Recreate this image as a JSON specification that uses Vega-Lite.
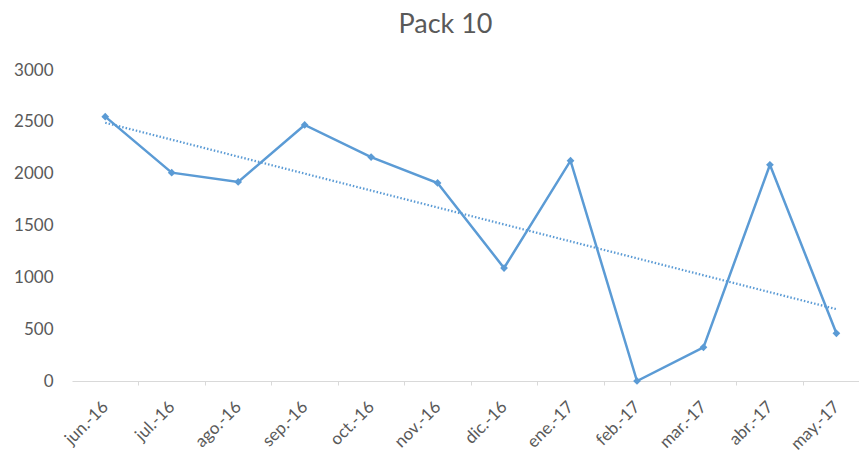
{
  "$schema": "https://vega.github.io/schema/vega-lite/v6.json",
  "autosize": {"type": "none"},
  "padding": {"left": 72, "top": 70, "right": 0, "bottom": 76},
  "width": 787,
  "height": 311,
  "background": "white",
  "config": {"view": {"stroke": null}, "font": "Lato"},
  "title": {"text": "Pack 10", "fontSize": 27, "font": "Lato", "fontWeight": "normal", "color": "#595959", "offset": 22, "dx": -20},
  "data": {"values": [
    {"i": 1, "month": "jun.-16", "value": 2550},
    {"i": 2, "month": "jul.-16", "value": 2010},
    {"i": 3, "month": "ago.-16", "value": 1920},
    {"i": 4, "month": "sep.-16", "value": 2470},
    {"i": 5, "month": "oct.-16", "value": 2160},
    {"i": 6, "month": "nov.-16", "value": 1910},
    {"i": 7, "month": "dic.-16", "value": 1090},
    {"i": 8, "month": "ene.-17", "value": 2125},
    {"i": 9, "month": "feb.-17", "value": 0},
    {"i": 10, "month": "mar.-17", "value": 325},
    {"i": 11, "month": "abr.-17", "value": 2085},
    {"i": 12, "month": "may.-17", "value": 460}
  ]},
  "encoding": {
    "x": {"field": "i", "type": "quantitative",
      "scale": {"domain": [0.5, 12.34], "nice": false, "zero": false},
      "axis": {"title": null, "values": [1,2,3,4,5,6,7,8,9,10,11,12],
        "labelExpr": "['jun.-16','jul.-16','ago.-16','sep.-16','oct.-16','nov.-16','dic.-16','ene.-17','feb.-17','mar.-17','abr.-17','may.-17'][datum.value-1]",
        "labelAngle": -45, "labelAlign": "right", "labelBaseline": "middle", "labelPadding": 19,
        "labelFontSize": 17, "labelColor": "#595959", "labelFont": "Lato",
        "domainColor": "#D9D9D9", "domainWidth": 1, "tickColor": "#D9D9D9", "tickSize": 4,
        "tickOffset": 33, "labelOffset": -33, "grid": false}},
    "y": {"field": "value", "type": "quantitative",
      "scale": {"domain": [0, 3000], "nice": false},
      "axis": {"title": null, "values": [0,500,1000,1500,2000,2500,3000], "format": "d", "domain": false, "ticks": false,
        "grid": false, "labelFontSize": 17, "labelColor": "#595959", "labelFont": "Lato", "labelPadding": 19}}
  },
  "layer": [
    {"mark": {"type": "line", "color": "#5B9BD5", "strokeWidth": 2.5}},
    {"mark": {"type": "point", "shape": "diamond", "filled": true, "size": 60, "color": "#5B9BD5", "opacity": 1}},
    {"transform": [{"regression": "value", "on": "i"}],
     "mark": {"type": "line", "color": "#5B9BD5", "strokeWidth": 2.25, "strokeDash": [1.5, 2]}}
  ]
}
